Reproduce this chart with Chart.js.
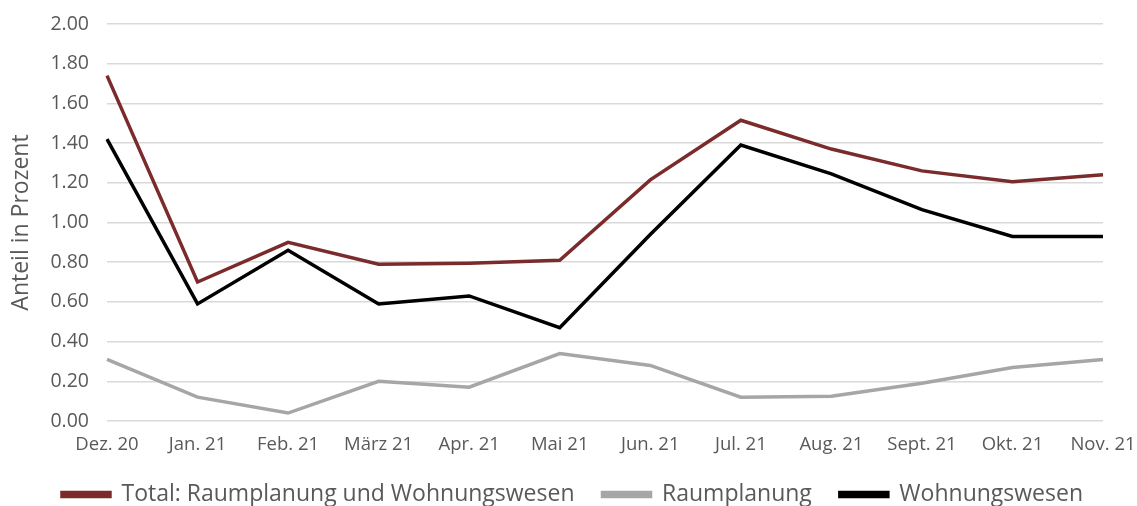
<!DOCTYPE html>
<html>
<head>
<meta charset="utf-8">
<script src="https://cdn.jsdelivr.net/npm/chart.js@4"></script>
<style>
  html, body { margin: 0; padding: 0; background: #fff; }
  #wrap { width: 1137px; height: 506px; }
</style>
</head>
<body>
<div id="wrap"><canvas id="chart"></canvas></div>
<script>
const months = ['Dez. 20', 'Jan. 21', 'Feb. 21', 'März 21', 'Apr. 21', 'Mai 21',
  'Jun. 21', 'Jul. 21', 'Aug. 21', 'Sept. 21', 'Okt. 21', 'Nov. 21'];
const total = [1.74, 0.70, 0.90, 0.79, 0.795, 0.81, 1.215, 1.515, 1.37, 1.26, 1.205, 1.24];
const raumplanung = [0.31, 0.12, 0.04, 0.20, 0.17, 0.34, 0.28, 0.12, 0.125, 0.19, 0.27, 0.31];
const wohnungswesen = [1.42, 0.59, 0.86, 0.59, 0.63, 0.47, 0.94, 1.39, 1.245, 1.065, 0.93, 0.93];

const textColor = '#595959';
const fontFamily = '"Open Sans", Lato, sans-serif';

function series(label, data, color) {
  return {
    label: label,
    data: data,
    borderColor: color,
    backgroundColor: color,
    borderWidth: 3.5,
    pointRadius: 0,
    tension: 0,
    fill: false
  };
}

new Chart(document.getElementById('chart').getContext('2d'), {
  type: 'line',
  data: {
    labels: months,
    datasets: [
      series('Total: Raumplanung und Wohnungswesen', total, '#7b2b2b'),
      series('Raumplanung', raumplanung, '#a6a6a6'),
      series('Wohnungswesen', wohnungswesen, '#000000')
    ]
  },
  options: {
    responsive: true,
    maintainAspectRatio: false,
    animation: false,
    layout: { padding: { left: 8, right: 0, top: 24, bottom: -10 } },
    plugins: {
      tooltip: { enabled: false },
      legend: {
        position: 'bottom',
        labels: {
          color: textColor,
          font: { family: fontFamily, size: 23 },
          boxWidth: 48,
          boxHeight: 4,
          padding: 28
        }
      }
    },
    scales: {
      x: {
        offset: false,
        grid: { display: false, drawTicks: false },
        border: { display: false },
        afterFit: s => { s.height = 34; s.paddingLeft = 0; s.paddingRight = 34; },
        ticks: {
          color: textColor,
          font: { family: fontFamily, size: 18.5 },
          maxRotation: 0,
          autoSkip: false,
          padding: 13
        }
      },
      y: {
        min: 0,
        max: 2,
        grid: { color: '#d9d9d9', lineWidth: 1.5, drawTicks: false },
        border: { display: false },
        afterFit: s => { s.width = 99; s.paddingTop = 0; s.paddingBottom = 0; },
        title: {
          display: true,
          text: 'Anteil in Prozent',
          color: textColor,
          font: { family: fontFamily, size: 23 },
          padding: { top: 0, bottom: 8 }
        },
        ticks: {
          stepSize: 0.2,
          color: textColor,
          font: { family: fontFamily, size: 19.5 },
          padding: 18,
          callback: v => Number(v).toFixed(2)
        }
      }
    }
  }
});
</script>
</body>
</html>
